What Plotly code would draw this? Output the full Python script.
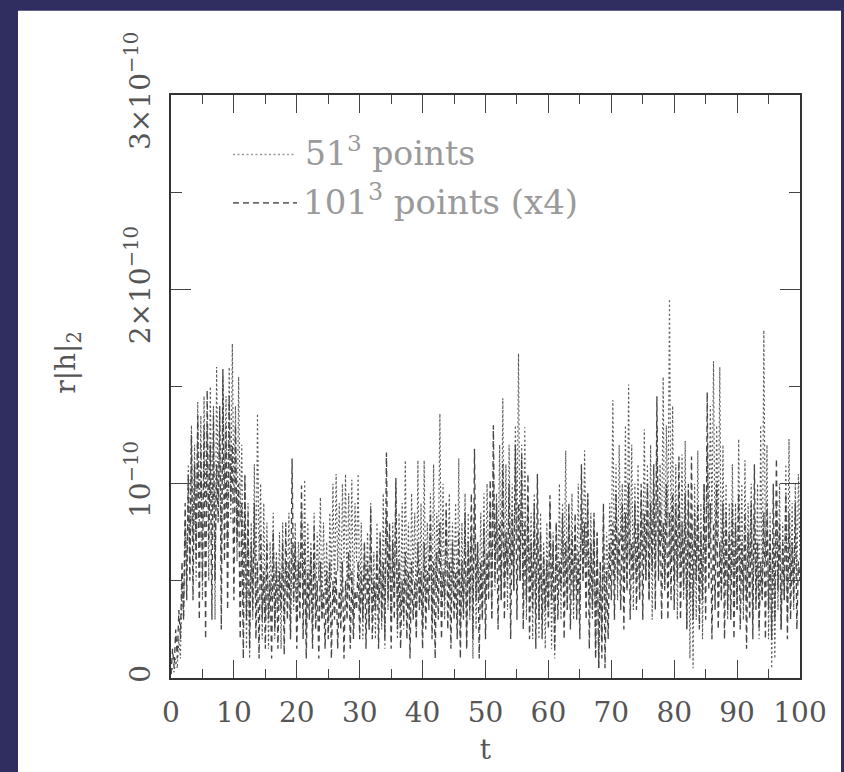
import plotly.graph_objects as go

# time axis: t = 0, 0.25, ..., 100
t = [i * 0.25 for i in range(401)]

# 51^3 points (dotted), units of 1e-10
res51 = [
    0.02, 0.05, 0.03, 0.1, 0.05, 0.2, 0.1, 0.5, 0.3, 0.8, 0.5, 1.1, 0.6, 1.3, 0.7, 1.2, 0.5, 1.42, 0.8, 1.35,
    0.4, 1.45, 0.9, 1.3, 0.5, 1.5, 0.7, 1.4, 0.3, 1.6, 0.9, 1.35, 0.6, 1.55, 1.0, 1.45, 0.7, 1.6, 0.8, 1.72,
    0.9, 1.4, 0.6, 1.55, 0.8, 1.2, 0.4, 1.05, 0.15, 0.9, 0.1, 0.8, 0.3, 1.1, 0.4, 1.36, 0.6, 1.0, 0.2, 0.9,
    0.3, 0.8, 0.15, 0.7, 0.4, 0.85, 0.2, 0.65, 0.35, 0.75, 0.15, 0.8, 0.3, 0.6, 0.45, 0.85, 0.2, 0.7, 0.35, 0.8,
    0.3, 0.7, 0.5, 0.9, 0.4, 1.02, 0.25, 0.8, 0.45, 0.7, 0.2, 0.85, 0.35, 0.75, 0.5, 0.93, 0.3, 0.8, 0.4, 0.7,
    0.3, 0.85, 0.5, 1.0, 0.4, 1.05, 0.55, 0.9, 0.35, 1.0, 0.6, 1.05, 0.4, 0.95, 0.5, 1.02, 0.3, 0.9, 0.6, 1.05,
    0.35, 0.8, 0.2, 0.7, 0.45, 0.75, 0.25, 0.9, 0.3, 0.65, 0.2, 0.8, 0.4, 0.7, 0.25, 0.95, 0.15, 0.85, 0.35, 0.75,
    0.3, 0.8, 0.45, 1.0, 0.2, 0.85, 0.35, 0.9, 0.25, 1.12, 0.4, 0.8, 0.3, 0.95, 0.5, 0.85, 0.25, 1.12, 0.35, 0.9,
    0.25, 1.12, 0.4, 0.8, 0.5, 0.95, 0.3, 1.1, 0.45, 0.85, 0.6, 1.36, 0.4, 1.0, 0.3, 0.85, 0.5, 0.95, 0.35, 0.8,
    0.45, 0.9, 0.3, 1.13, 0.2, 0.8, 0.35, 0.95, 0.15, 0.85, 0.3, 0.75, 0.1, 0.9, 0.25, 0.7, 0.4, 0.85, 0.3, 0.95,
    0.4, 1.0, 0.5, 0.9, 0.3, 1.1, 0.45, 0.95, 0.6, 1.2, 0.4, 1.44, 0.5, 1.1, 0.35, 1.2, 0.6, 1.0, 0.45, 1.3,
    0.7, 1.67, 0.5, 1.2, 0.4, 1.29, 0.3, 0.9, 0.5, 0.85, 0.2, 0.95, 0.35, 0.75, 0.2, 0.85, 0.3, 0.7, 0.15, 0.8,
    0.35, 0.9, 0.15, 0.75, 0.1, 0.8, 0.4, 1.0, 0.3, 0.9, 0.5, 1.17, 0.35, 0.85, 0.5, 0.95, 0.3, 0.8, 0.45, 1.0,
    0.35, 0.9, 0.5, 1.17, 0.6, 0.95, 0.4, 0.85, 0.3, 0.8, 0.1, 0.75, 0.05, 0.6, 0.2, 0.85, 0.3, 0.75, 0.5, 0.9,
    0.6, 1.43, 0.5, 1.1, 0.4, 1.2, 0.7, 1.0, 0.5, 1.3, 0.45, 1.51, 0.6, 1.2, 0.35, 1.0, 0.5, 1.1, 0.4, 0.95,
    0.6, 1.28, 0.5, 1.1, 0.4, 1.2, 0.3, 1.0, 0.5, 1.3, 0.6, 1.1, 0.7, 1.55, 0.5, 1.3, 0.8, 1.95, 0.6, 1.4,
    0.5, 1.1, 0.3, 1.0, 0.6, 1.15, 0.4, 1.22, 0.25, 0.9, 0.1, 0.8, 0.05, 1.0, 0.3, 1.17, 0.4, 0.9, 0.2, 1.0,
    0.5, 1.2, 0.7, 1.4, 0.8, 1.63, 0.6, 1.3, 0.7, 1.6, 0.4, 1.2, 0.5, 1.0, 0.3, 0.9, 0.5, 1.1, 0.4, 0.9,
    0.35, 1.23, 0.5, 1.0, 0.3, 1.12, 0.4, 0.9, 0.6, 1.0, 0.3, 0.85, 0.4, 1.0, 0.2, 1.3, 0.4, 1.79, 0.6, 1.2,
    0.2, 0.85, 0.05, 0.7, 0.1, 0.9, 0.35, 1.0, 0.25, 0.8, 0.4, 1.1, 0.3, 1.23, 0.5, 0.9, 0.35, 1.0, 0.5, 1.05,
    0.6,
]

# 101^3 points (x4) (dashed), units of 1e-10
res101 = [
    0.02, 0.15, 0.05, 0.25, 0.1, 0.35, 0.2, 0.6, 0.3, 0.9, 0.4, 1.05, 0.5, 1.25, 0.4, 1.1, 0.6, 1.35, 0.3, 1.2,
    0.5, 1.3, 0.2, 1.48, 0.7, 1.2, 0.3, 1.35, 0.5, 1.1, 0.8, 1.4, 0.25, 1.59, 0.6, 1.3, 0.35, 1.45, 0.9, 1.2,
    0.4, 1.3, 0.7, 1.0, 0.2, 0.9, 0.1, 1.04, 0.3, 0.85, 0.15, 0.7, 0.35, 0.9, 0.2, 0.6, 0.1, 0.75, 0.3, 0.55,
    0.15, 0.7, 0.3, 0.5, 0.1, 0.75, 0.25, 0.6, 0.15, 0.55, 0.35, 0.7, 0.12, 0.8, 0.3, 0.6, 0.2, 1.13, 0.4, 0.7,
    0.15, 0.6, 0.3, 0.99, 0.2, 0.7, 0.1, 0.55, 0.3, 0.65, 0.15, 0.78, 0.25, 0.5, 0.1, 0.6, 0.3, 0.45, 0.15, 0.55,
    0.2, 0.6, 0.1, 0.5, 0.3, 0.55, 0.15, 0.45, 0.25, 0.6, 0.1, 0.5, 0.3, 0.65, 0.15, 0.55, 0.2, 0.45, 0.35, 0.6,
    0.2, 0.55, 0.3, 0.7, 0.15, 0.6, 0.25, 0.87, 0.2, 0.5, 0.35, 0.65, 0.15, 0.75, 0.3, 0.6, 0.2, 1.16, 0.4, 0.8,
    0.15, 0.7, 0.3, 1.03, 0.25, 0.6, 0.15, 0.5, 0.3, 0.65, 0.2, 0.55, 0.1, 0.6, 0.3, 0.5, 0.2, 0.7, 0.35, 0.55,
    0.15, 0.7, 0.25, 0.55, 0.35, 0.85, 0.2, 0.6, 0.1, 0.65, 0.3, 0.8, 0.2, 0.55, 0.4, 0.9, 0.25, 0.6, 0.15, 0.7,
    0.3, 0.55, 0.2, 0.75, 0.1, 0.6, 0.3, 0.85, 0.15, 0.7, 0.35, 0.95, 0.2, 1.18, 0.4, 0.7, 0.1, 0.6, 0.3, 0.8,
    0.2, 0.65, 0.4, 1.02, 0.3, 1.3, 0.5, 0.9, 0.25, 0.8, 0.4, 1.1, 0.3, 0.75, 0.5, 1.0, 0.2, 0.85, 0.45, 1.2,
    0.3, 0.9, 0.5, 1.15, 0.25, 0.8, 0.4, 1.05, 0.2, 0.7, 0.35, 0.9, 0.15, 1.05, 0.3, 0.75, 0.2, 0.65, 0.35, 0.6,
    0.25, 0.94, 0.4, 0.7, 0.15, 0.8, 0.3, 0.6, 0.45, 0.85, 0.2, 0.7, 0.35, 0.9, 0.25, 0.75, 0.4, 0.85, 0.3, 0.65,
    0.2, 1.1, 0.5, 0.8, 0.3, 0.95, 0.15, 0.7, 0.35, 0.85, 0.1, 0.75, 0.05, 0.6, 0.1, 0.9, 0.05, 0.55, 0.2, 0.7,
    0.4, 0.8, 0.3, 0.95, 0.5, 0.75, 0.35, 0.9, 0.25, 0.85, 0.45, 1.0, 0.3, 0.7, 0.5, 0.9, 0.35, 0.8, 0.4, 1.0,
    0.3, 0.85, 0.5, 1.0, 0.4, 0.9, 0.55, 1.1, 0.35, 1.45, 0.5, 0.9, 0.3, 0.8, 0.45, 1.0, 0.3, 0.85, 0.4, 0.95,
    0.35, 0.9, 0.5, 1.14, 0.3, 0.8, 0.45, 0.95, 0.25, 1.0, 0.4, 1.14, 0.3, 0.85, 0.5, 0.9, 0.25, 0.75, 0.4, 1.0,
    0.3, 1.47, 0.45, 0.9, 0.2, 0.8, 0.35, 1.0, 0.25, 0.7, 0.4, 0.9, 0.2, 0.85, 0.35, 0.75, 0.3, 0.9, 0.2, 0.8,
    0.35, 0.95, 0.25, 0.7, 0.4, 0.85, 0.15, 0.75, 0.3, 0.9, 0.2, 1.1, 0.35, 0.7, 0.25, 0.6, 0.4, 0.85, 0.2, 0.9,
    0.35, 0.75, 0.2, 1.0, 0.3, 1.13, 0.45, 0.8, 0.25, 0.7, 0.4, 0.95, 0.2, 0.85, 0.3, 0.7, 0.4, 0.9, 0.25, 0.6,
    0.5,
]

names = ["51<sup>3</sup> points", "101<sup>3</sup> points (x4)"]

scale = 1e-10
y_tickvals = [0, 1e-10, 2e-10, 3e-10]
y_ticktext = ["0", "10<sup>−10</sup>", "2×10<sup>−10</sup>", "3×10<sup>−10</sup>"]
x_tickvals = list(range(0, 101, 10))

FONT = "DejaVu Serif"
NAVY = "#302e60"
TXT = "#555555"
LEG = "#9a9a9a"
DOT = dict(color="#5a5a5a", width=1.15, dash="2px,2.5px")
DASH = dict(color="#474747", width=1.35, dash="6px,4px")

fig = go.Figure()
fig.add_trace(go.Scatter(x=t, y=[v * scale for v in res51], mode="lines",
                         name=names[0], line=DOT, showlegend=False))
fig.add_trace(go.Scatter(x=t, y=[v * scale for v in res101], mode="lines",
                         name=names[1], line=DASH, showlegend=False))

L, R, T, B = 171, 44, 95, 88
W, H = 844, 772
pw, ph = W - L - R, H - T - B

def px(xp):
    return (xp - L) / pw

def py(yp):
    return (H - B - yp) / ph

# navy frame strips around the white page (left, top, right)
shapes = [
    dict(type="rect", xref="paper", yref="paper", layer="below",
         x0=px(-5), x1=px(18), y0=py(-5), y1=py(800),
         fillcolor=NAVY, line=dict(width=0)),
    dict(type="rect", xref="paper", yref="paper", layer="below",
         x0=px(-5), x1=px(850), y0=py(-5), y1=py(10),
         fillcolor=NAVY, line=dict(width=0)),
    dict(type="rect", xref="paper", yref="paper", layer="below",
         x0=px(841), x1=px(850), y0=py(-5), y1=py(800),
         fillcolor=NAVY, line=dict(width=0)),
    # keep the bottom of the page white
    dict(type="rect", xref="paper", yref="paper", layer="below",
         x0=px(18), x1=px(841), y0=py(690), y1=py(800),
         fillcolor="white", line=dict(width=0)),
]
# legend samples
shapes.append(dict(type="line", xref="paper", yref="paper",
                   x0=px(233), x1=px(294), y0=py(155), y1=py(155),
                   line=dict(color="#9a9a9a", width=1.5, dash="2px,2.5px")))
shapes.append(dict(type="line", xref="paper", yref="paper",
                   x0=px(233), x1=px(297), y0=py(204), y1=py(204),
                   line=dict(color="#6a6a6a", width=1.6, dash="6px,4px")))

annotations = [
    dict(text="r|h|<sub>2</sub>", xref="paper", yref="paper",
         x=px(47), y=py(365), showarrow=False, textangle=-90,
         font=dict(size=28, color=TXT, family=FONT)),
    dict(text=names[0], xref="paper", yref="paper", x=px(303), y=py(152),
         xanchor="left", yanchor="middle", showarrow=False,
         font=dict(size=33, color=LEG, family=FONT)),
    dict(text=names[1], xref="paper", yref="paper", x=px(301), y=py(201),
         xanchor="left", yanchor="middle", showarrow=False,
         font=dict(size=34, color=LEG, family=FONT)),
]

fig.update_layout(
    width=W, height=H,
    margin=dict(l=L, r=R, t=T, b=B),
    paper_bgcolor="white",
    plot_bgcolor="white",
    font=dict(family=FONT, color=TXT, size=28),
    showlegend=False,
    shapes=shapes,
    annotations=annotations,
)

fig.update_xaxes(
    range=[0, 100], tickvals=x_tickvals, ticks="inside", ticklen=18, tickwidth=1.2,
    tickcolor="#444", showline=True, linecolor="#333", linewidth=2, mirror="ticks",
    showgrid=False, zeroline=False, ticklabelstandoff=8,
    minor=dict(dtick=5, ticks="inside", ticklen=9, tickwidth=1.2, tickcolor="#444", showgrid=False),
    title=dict(text="t", font=dict(size=28, color=TXT, family=FONT), standoff=12),
)
fig.update_yaxes(
    range=[0, 3e-10], tickvals=y_tickvals, ticktext=y_ticktext, tickangle=-90,
    ticks="inside", ticklen=20, tickwidth=1.2, tickcolor="#444",
    showline=True, linecolor="#333", linewidth=2, mirror="ticks",
    showgrid=False, zeroline=False, ticklabelstandoff=8,
    minor=dict(dtick=0.5e-10, ticks="inside", ticklen=11, tickwidth=1.2, tickcolor="#444", showgrid=False),
)

fig.write_html("out.html")
